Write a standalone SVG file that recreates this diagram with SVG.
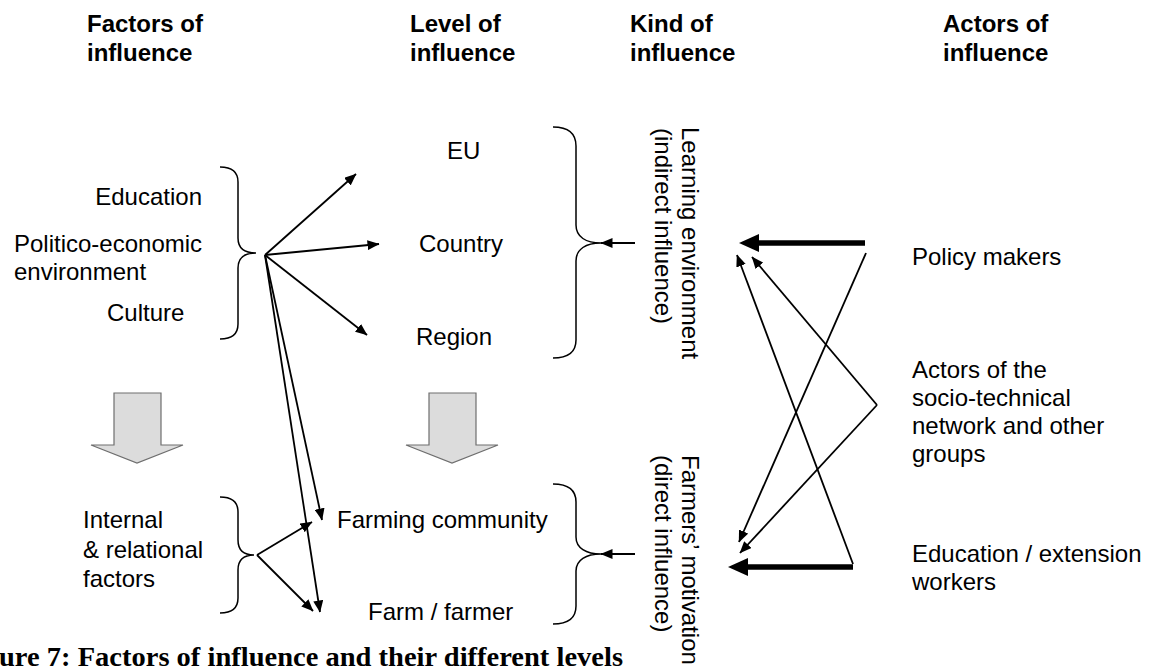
<svg xmlns="http://www.w3.org/2000/svg" width="1152" height="670" viewBox="0 0 1152 670">
<defs>
<style>
text{font-family:"Liberation Sans",Arial,sans-serif;font-size:24px;fill:#000}
.hd{font-weight:bold}
.ln{stroke:#000;stroke-width:1.8;fill:none}
.thick{stroke:#000;stroke-width:5.5;fill:none}
.brace{stroke:#000;stroke-width:1.5;fill:none}
.block{fill:#dcdcdc;stroke:#6e6e6e;stroke-width:1.2}
.cap{font-family:"Liberation Serif","Times New Roman",serif;font-weight:bold;font-size:27px}
</style>
<marker id="ah" viewBox="0 0 12 10" refX="11.5" refY="5" markerWidth="12" markerHeight="10" markerUnits="userSpaceOnUse" orient="auto"><path d="M0,0 L12,5 L0,10 Z" fill="#000"/></marker>
<marker id="ahT" viewBox="0 0 20 18" refX="2" refY="9" markerWidth="20" markerHeight="18" markerUnits="userSpaceOnUse" orient="auto"><path d="M0,0 L20,9 L0,18 Z" fill="#000"/></marker>
</defs>
<rect width="1152" height="670" fill="#fff"/>

<g id="headers">
<text class="hd" x="87" y="32">Factors of</text><text class="hd" x="87" y="61">influence</text>
<text class="hd" x="410" y="32">Level of</text><text class="hd" x="410" y="61">influence</text>
<text class="hd" x="630" y="32">Kind of</text><text class="hd" x="630" y="61">influence</text>
<text class="hd" x="943" y="32">Actors of</text><text class="hd" x="943" y="61">influence</text>
</g>

<g id="factors-macro">
<text x="202" y="205" text-anchor="end">Education</text>
<text x="14" y="252">Politico-economic</text>
<text x="14" y="280">environment</text>
<text x="107" y="321">Culture</text>
<path class="brace" d="M220,167 C232,167 238,172 238,182 L238,238 C238,248 244,253 256,253 C244,253 238,258 238,268 L238,324 C238,334 232,339 220,339"/>
</g>

<g id="factors-internal">
<text x="83" y="528">Internal</text>
<text x="83" y="558">&amp; relational</text>
<text x="83" y="587">factors</text>
<path class="brace" d="M220,497 C232,497 238,502 238,512 L238,540 C238,550 244,555 254,555 C244,555 238,560 238,570 L238,598 C238,608 232,613 220,613"/>
</g>

<g id="block-arrow-1"><path class="block" d="M114,393 L161,393 L161,445 L183,445 L137,463 L91,445 L114,445 Z"/></g>
<g id="block-arrow-2"><path class="block" d="M429,393 L476,393 L476,445 L498,445 L452,463 L406,445 L429,445 Z"/></g>

<g id="levels">
<text x="447" y="159">EU</text>
<text x="419" y="252">Country</text>
<text x="416" y="345">Region</text>
<text x="337" y="528">Farming community</text>
<text x="368" y="620">Farm / farmer</text>
</g>

<g id="kind-indirect">
<path class="brace" d="M553,127 C568,127 576,133 576,146 L576,225 C576,237 586,243 601,243 C586,243 576,249 576,261 L576,340 C576,352 568,358 553,358"/>
<text transform="translate(682,127) rotate(90)">Learning environment</text>
<text transform="translate(655,128) rotate(90)">(indirect influence)</text>
</g>

<g id="kind-direct">
<path class="brace" d="M553,484 C568,484 576,490 576,502 L576,537 C576,548 586,554 601,554 C586,554 576,560 576,571 L576,606 C576,618 568,624 553,624"/>
<text transform="translate(682,455) rotate(90)">Farmers’ motivation</text>
<text transform="translate(655,455) rotate(90)">(direct influence)</text>
</g>

<g id="actors">
<text x="912" y="265">Policy makers</text>
<text x="912" y="378">Actors of the</text>
<text x="912" y="406">socio-technical</text>
<text x="912" y="434">network and other</text>
<text x="912" y="462">groups</text>
<text x="912" y="562">Education / extension</text>
<text x="912" y="590">workers</text>
</g>

<g id="connectors">
<line class="ln" x1="265" y1="255" x2="356" y2="174" marker-end="url(#ah)"/>
<line class="ln" x1="265" y1="255" x2="379" y2="244" marker-end="url(#ah)"/>
<line class="ln" x1="265" y1="255" x2="367" y2="335" marker-end="url(#ah)"/>
<line class="ln" x1="265" y1="255" x2="322" y2="520" marker-end="url(#ah)"/>
<line class="ln" x1="265" y1="255" x2="320" y2="612" marker-end="url(#ah)"/>
<line class="ln" x1="257" y1="555" x2="312" y2="522" marker-end="url(#ah)"/>
<line class="ln" x1="257" y1="555" x2="313" y2="611" marker-end="url(#ah)"/>
<line class="ln" x1="635" y1="243" x2="601" y2="243" marker-end="url(#ah)"/>
<line class="ln" x1="635" y1="554" x2="601" y2="554" marker-end="url(#ah)"/>
<line class="thick" x1="865" y1="243" x2="757" y2="243" marker-end="url(#ahT)"/>
<line class="thick" x1="853" y1="567" x2="746" y2="567" marker-end="url(#ahT)"/>
<line class="ln" x1="866" y1="253" x2="739" y2="542" marker-end="url(#ah)"/>
<line class="ln" x1="877" y1="405" x2="752" y2="257" marker-end="url(#ah)"/>
<line class="ln" x1="877" y1="405" x2="740" y2="553" marker-end="url(#ah)"/>
<line class="ln" x1="853" y1="564" x2="737" y2="255" marker-end="url(#ah)"/>
</g>

<g id="caption">
<text class="cap" x="-1" y="666" textLength="624" lengthAdjust="spacingAndGlyphs">ure 7: Factors of influence and their different levels</text>
</g>
</svg>
